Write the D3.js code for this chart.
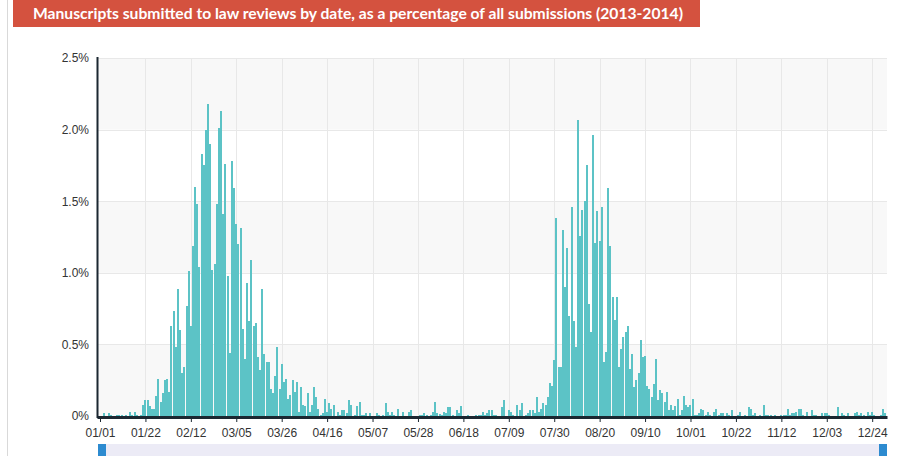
<!DOCTYPE html>
<html>
<head>
<meta charset="utf-8">
<script src="https://cdn.jsdelivr.net/npm/d3@7"></script>
<style>
  html, body { margin: 0; padding: 0; background: #fff; }
  svg { display: block; }
</style>
</head>
<body>
<svg id="chart" width="923" height="456"></svg>
<script>
// ---- data ----
const titleText = "Manuscripts submitted to law reviews by date, as a percentage of all submissions (2013-2014)";
const startDate = "2013-01-01";
// percentage of all submissions, one value per day from 01/01
const values = [
  0, 0, 0.02, 0, 0.02, 0.01, 0, 0, 0.01, 0.01,
  0.01, 0, 0.01, 0, 0.025, 0.01, 0.025, 0.01, 0, 0.01,
  0.077, 0.11, 0.11, 0.07, 0.05, 0.05, 0.14, 0.26, 0.10, 0.16,
  0.25, 0.26, 0.17, 0.63, 0.73, 0.48, 0.89, 0.60, 0.30, 0.34,
  0.77, 1.01, 0.63, 1.19, 1.60, 1.48, 1.04, 1.83, 1.75, 2.00,
  2.18, 1.90, 1.02, 1.06, 1.48, 2.01, 2.13, 1.41, 1.76, 0.98,
  0.44, 1.78, 1.59, 1.34, 1.20, 1.31, 0.61, 0.40, 0.93, 0.66,
  1.09, 0.63, 0.65, 0.41, 0.32, 0.89, 0.43, 0.38, 0.38, 0.19,
  0.16, 0.28, 0.48, 0.19, 0.36, 0.24, 0.26, 0.12, 0.15, 0.25,
  0.17, 0.24, 0.03, 0.20, 0.08, 0.07, 0.16, 0.03, 0.08, 0.20,
  0.13, 0.05, 0.01, 0.02, 0.12, 0.03, 0.09, 0.05, 0.077, 0,
  0.03, 0.01, 0.04, 0.04, 0.02, 0.11, 0.077, 0, 0.01, 0.07,
  0.10, 0.01, 0.01, 0.02, 0, 0.02, 0, 0, 0.02, 0.01,
  0, 0.01, 0.09, 0.03, 0.01, 0.03, 0.01, 0, 0.05, 0,
  0.03, 0, 0, 0.03, 0.04, 0, 0, 0, 0.01, 0.01,
  0.02, 0.01, 0, 0.01, 0.03, 0.10, 0.02, 0.014, 0.01, 0.03,
  0.02, 0.06, 0.06, 0.01, 0, 0.04, 0.02, 0.07, 0, 0,
  0.01, 0, 0, 0, 0.01, 0.01, 0.01, 0.03, 0.01, 0.02,
  0.04, 0.04, 0.01, 0.01, 0, 0, 0.06, 0.11, 0, 0.04,
  0.03, 0.01, 0, 0.077, 0.04, 0.09, 0, 0.01, 0.02, 0.04,
  0.04, 0.02, 0.13, 0.03, 0.05, 0.09, 0.077, 0.13, 0.23, 0.21,
  0.39, 1.38, 0.34, 0.34, 1.30, 0.90, 1.17, 0.70, 1.46, 0.66,
  0.48, 2.07, 1.26, 1.44, 1.50, 1.75, 0.78, 0.59, 1.96, 1.21,
  1.43, 1.22, 1.46, 0.38, 0.45, 1.59, 1.19, 0.83, 0.67, 0.83,
  0.34, 0.47, 0.55, 0.59, 0.63, 0.33, 0.43, 0.20, 0.25, 0.30,
  0.53, 0.41, 0.42, 0.21, 0.19, 0.13, 0.22, 0.40, 0.11, 0.18,
  0.16, 0.10, 0.17, 0.04, 0.077, 0.04, 0.07, 0.12, 0.01, 0.04,
  0.14, 0.077, 0.06, 0.077, 0.12, 0.01, 0.01, 0.02, 0.05, 0.04,
  0.01, 0.03, 0.01, 0, 0.03, 0.05, 0.01, 0.02, 0.02, 0,
  0.02, 0.01, 0.04, 0, 0, 0.01, 0.03, 0, 0.01, 0,
  0.06, 0.05, 0.01, 0.02, 0, 0.01, 0, 0.077, 0.01, 0.01,
  0.01, 0, 0.01, 0, 0, 0.01, 0.01, 0.01, 0.05, 0.01,
  0.02, 0.02, 0.03, 0.05, 0.05, 0.01, 0, 0.03, 0, 0.04,
  0.01, 0.01, 0, 0, 0.02, 0.02, 0.02, 0.01, 0, 0,
  0, 0.06, 0, 0.02, 0.01, 0, 0.02, 0, 0, 0.02,
  0.03, 0.01, 0.02, 0.01, 0, 0.03, 0.01, 0.03, 0.01, 0,
  0, 0.01, 0.05, 0.02, 0
];
const xTickLabels = ["01/01","01/22","02/12","03/05","03/26","04/16","05/07","05/28","06/18",
                     "07/09","07/30","08/20","09/10","10/01","10/22","11/12","12/03","12/24"];
const yTickValues = [0, 0.5, 1.0, 1.5, 2.0, 2.5];
const yTickLabels = ["0%", "0.5%", "1.0%", "1.5%", "2.0%", "2.5%"];

// ---- layout ----
const svg = d3.select("#chart");
const plot = { left: 97, right: 887, top: 58, bottom: 416 };
const parse = d3.timeParse("%Y-%m-%d");
const t0 = parse(startDate);
const dates = values.map((v, i) => d3.timeDay.offset(t0, i));
const data = dates.map((d, i) => ({ date: d, value: values[i] }));
const fmt = d3.timeFormat("%m/%d");
const tickDates = xTickLabels.map(lbl => dates.find(d => fmt(d) === lbl));

const dayMs = 864e5;
const pxPerDay = 2.163;
const x = d3.scaleTime()
  .domain([new Date(+t0 - (100 - plot.left) / pxPerDay * dayMs),
           new Date(+t0 + (plot.right - 100) / pxPerDay * dayMs)])
  .range([plot.left, plot.right]);
const y = d3.scaleLinear().domain([0, 2.5]).range([plot.bottom, plot.top]);

// page border line
svg.append("line").attr("x1", 7.5).attr("x2", 7.5).attr("y1", 0).attr("y2", 456)
  .attr("stroke", "#d9d9d9").attr("stroke-width", 1);

// title banner
svg.append("rect").attr("x", 13).attr("y", 0).attr("width", 687).attr("height", 27)
  .attr("fill", "#d4523f");
svg.append("text").attr("x", 33).attr("y", 19)
  .attr("fill", "#fff")
  .style("font-family", "Lato, 'Open Sans', sans-serif")
  .style("font-weight", 700)
  .style("font-size", "15px")
  .attr("textLength", 650)
  .attr("lengthAdjust", "spacingAndGlyphs")
  .text(titleText);

// alternating bands
const bands = d3.pairs(yTickValues);
svg.append("g").selectAll("rect").data(bands).join("rect")
  .attr("x", plot.left).attr("width", plot.right - plot.left)
  .attr("y", d => y(d[1])).attr("height", d => y(d[0]) - y(d[1]))
  .attr("fill", (d, i) => i % 2 === 0 ? "#f8f8f8" : "#ffffff");

// horizontal gridlines
svg.append("g").selectAll("line").data(yTickValues.slice(1)).join("line")
  .attr("x1", plot.left).attr("x2", plot.right)
  .attr("y1", d => Math.round(y(d)) + 0.5).attr("y2", d => Math.round(y(d)) + 0.5)
  .attr("stroke", "#e8e8e8");

// vertical gridlines
svg.append("g").selectAll("line").data(tickDates.slice(1)).join("line")
  .attr("x1", d => Math.round(x(d)) + 0.5).attr("x2", d => Math.round(x(d)) + 0.5)
  .attr("y1", plot.top).attr("y2", plot.bottom)
  .attr("stroke", "#e8e8e8");

// bars
svg.append("g").attr("shape-rendering", "crispEdges").selectAll("rect").data(data).join("rect")
  .attr("x", d => Math.round(x(d.date) - 1))
  .attr("width", 2)
  .attr("y", d => y(d.value))
  .attr("height", d => plot.bottom - y(d.value))
  .attr("fill", "#5cc3c6");

// y axis
const yAxis = d3.axisLeft(y).tickValues(yTickValues)
  .tickFormat((d, i) => yTickLabels[i]).tickSize(0).tickPadding(8);
const gy = svg.append("g").attr("transform", `translate(${plot.left},0)`).call(yAxis);
gy.select(".domain").remove();
gy.selectAll("text").attr("fill", "#333")
  .style("font-family", "'Liberation Sans', Arial, sans-serif").style("font-size", "12px");
svg.append("line").attr("x1", plot.left + 0.5).attr("x2", plot.left + 0.5)
  .attr("y1", plot.top - 1).attr("y2", plot.bottom + 2)
  .attr("stroke", "#1b2731").attr("stroke-width", 2);

// x axis
const xAxis = d3.axisBottom(x).tickValues(tickDates)
  .tickFormat((d, i) => xTickLabels[i]).tickSizeInner(5).tickSizeOuter(0).tickPadding(6);
const gx = svg.append("g").attr("transform", `translate(0,${plot.bottom + 1})`).call(xAxis);
gx.select(".domain").attr("stroke", "#1b2731").attr("stroke-width", 3);
gx.selectAll(".tick line").attr("stroke", "#1b2731");
gx.selectAll("text").attr("fill", "#333")
  .style("font-family", "'Liberation Sans', Arial, sans-serif").style("font-size", "12px");

// navigator
svg.append("rect").attr("x", 98).attr("y", 444).attr("width", 789).attr("height", 12)
  .attr("fill", "#ecebf6");
svg.append("rect").attr("x", 98).attr("y", 444).attr("width", 8).attr("height", 12)
  .attr("fill", "#2d8bd0");
svg.append("rect").attr("x", 879).attr("y", 444).attr("width", 8).attr("height", 12)
  .attr("fill", "#2d8bd0");
</script>
</body>
</html>
